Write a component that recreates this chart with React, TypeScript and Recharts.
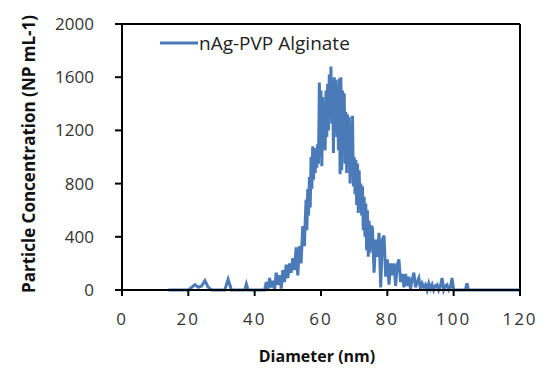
import React from 'react';
import { LineChart, Line, XAxis, YAxis, ReferenceLine } from 'recharts';

// diameter (nm) and particle concentration (NP mL-1)
const diameters = [
  14, 20, 21, 22, 23, 24, 25, 26, 27, 31,
  32, 33, 37, 37.5, 38, 43, 43.5, 44, 44.5, 45,
  45.5, 46, 46.5, 47, 47.5, 48, 48.5, 49, 49.5, 50,
  50.5, 51, 51.5, 52, 52.5, 53, 53.5, 54, 54.5, 55,
  55.25, 55.5, 55.75, 56, 56.25, 56.5, 56.75, 57, 57.25, 57.5,
  57.75, 58, 58.25, 58.5, 58.75, 59, 59.25, 59.5, 59.75, 60,
  60.25, 60.5, 60.75, 61, 61.25, 61.5, 61.75, 62, 62.25, 62.5,
  62.75, 63, 63.25, 63.5, 63.75, 64, 64.25, 64.5, 64.75, 65,
  65.25, 65.5, 65.75, 66, 66.25, 66.5, 66.75, 67, 67.25, 67.5,
  67.75, 68, 68.25, 68.5, 68.75, 69, 69.25, 69.5, 69.75, 70,
  70.25, 70.5, 70.75, 71, 71.25, 71.5, 71.75, 72, 72.25, 72.5,
  72.75, 73, 73.25, 73.5, 73.75, 74, 74.25, 74.5, 74.75, 75,
  75.5, 76, 76.5, 77, 77.5, 78, 78.5, 79, 79.5, 80,
  80.5, 81, 81.5, 82, 82.5, 83, 83.5, 84, 84.5, 85,
  85.5, 86, 86.5, 87, 87.5, 88, 88.5, 89, 89.5, 90,
  90.5, 91, 91.5, 92, 92.5, 93, 93.5, 94, 94.5, 95,
  95.5, 96, 96.5, 97, 97.5, 98, 98.5, 99, 99.5, 100,
  101, 103.5, 104, 104.5, 120,
];

const concentrations = [
  0, 0, 20, 40, 20, 30, 70, 20, 0, 0,
  80, 0, 0, 45, 0, 0, 60, 0, 90, 20,
  70, 0, 130, 40, 110, 10, 150, 60, 190, 90,
  200, 130, 240, 150, 320, 110, 330, 200, 480, 330,
  520, 680, 450, 760, 560, 850, 620, 1000, 760, 1080,
  830, 1070, 880, 1050, 920, 1100, 950, 1560, 1000, 1500,
  930, 1450, 1100, 1400, 1050, 1500, 1150, 1550, 1200, 1620,
  1300, 1680, 1250, 1560, 1030, 1600, 1200, 1580, 1150, 1540,
  1050, 1590, 870, 1600, 900, 1500, 1100, 1480, 950, 1340,
  880, 1320, 950, 1300, 800, 1200, 850, 1310, 780, 1000,
  720, 980, 640, 950, 580, 900, 620, 800, 560, 780,
  450, 700, 400, 650, 300, 600, 250, 520, 280, 480,
  470, 130, 380, 250, 430, 20, 380, 410, 100, 230,
  40, 200, 110, 200, 30, 190, 230, 60, 120, 20,
  120, 30, 100, 10, 80, 130, 20, 60, 90, 10,
  50, 20, 40, 0, 50, 10, 40, 0, 30, 40,
  0, 30, 90, 0, 30, 40, 0, 20, 90, 0,
  0, 0, 50, 0, 0,
];

const xTicks = [0, 20, 40, 60, 80, 100, 120];
const yTicks = [0, 400, 800, 1200, 1600, 2000];

const seriesName = 'nAg-PVP Alginate';
const lineColor = '#4a7ab8';
const font = '"Open Sans", Arial, sans-serif';

const data = diameters.map((d, i) => ({ d, value: concentrations[i] }));

const XTitle = (props: any) => {
  const vb = props.viewBox || {};
  return (
    <text x={vb.x + vb.width / 2 - 4} y={362} textAnchor="middle" fontFamily={font}
      fontWeight="bold" fontSize={16} fill="#111">
      Diameter (nm)
    </text>
  );
};

const YTitle = () => (
  <text x={30} y={154} transform="rotate(-90 30 154)" textAnchor="middle" dominantBaseline="middle"
    fontFamily={font} fontWeight="bold" fontSize={17} fill="#111">
    Particle Concentration (NP mL-1)
  </text>
);

export default function App() {
  return (
    <div style={{ position: 'absolute', left: 0, top: 0, width: 546, height: 371, background: '#fff' }}>
      <LineChart width={546} height={371} data={data} margin={{ top: 24, right: 26, left: 0, bottom: 0 }}>
        <XAxis
          dataKey="d"
          type="number"
          domain={[0, 120]}
          ticks={xTicks}
          height={81}
          tickSize={6}
          tickMargin={17}
          axisLine={{ stroke: '#000', strokeWidth: 2 }}
          tickLine={{ stroke: '#000', strokeWidth: 2 }}
          tick={{ fill: '#333', fontSize: 17, fontFamily: font, letterSpacing: 2 }}
          label={<XTitle />}
        />
        <YAxis
          type="number"
          domain={[0, 2000]}
          ticks={yTicks}
          width={122}
          tickSize={7}
          tickMargin={21}
          axisLine={{ stroke: '#000', strokeWidth: 2 }}
          tickLine={{ stroke: '#000', strokeWidth: 2 }}
          tick={{ fill: '#333', fontSize: 17, fontFamily: font }}
          label={<YTitle />}
        />
        <ReferenceLine y={2000} stroke="#000" strokeWidth={2} />
        <ReferenceLine x={120} stroke="#000" strokeWidth={2} />
        <Line
          type="linear"
          dataKey="value"
          name={seriesName}
          stroke={lineColor}
          strokeWidth={3}
          dot={false}
          isAnimationActive={false}
        />
      </LineChart>
      {/* legend, placed over the plot like the original */}
      <div style={{ position: 'absolute', left: 160, top: 30, display: 'flex', alignItems: 'center',
        fontFamily: font, fontSize: 19, color: '#222' }}>
        <svg width={38} height={6} style={{ marginRight: 1 }}>
          <line x1={0} y1={3} x2={38} y2={3} stroke={lineColor} strokeWidth={3} />
        </svg>
        <span>{seriesName}</span>
      </div>
    </div>
  );
}
